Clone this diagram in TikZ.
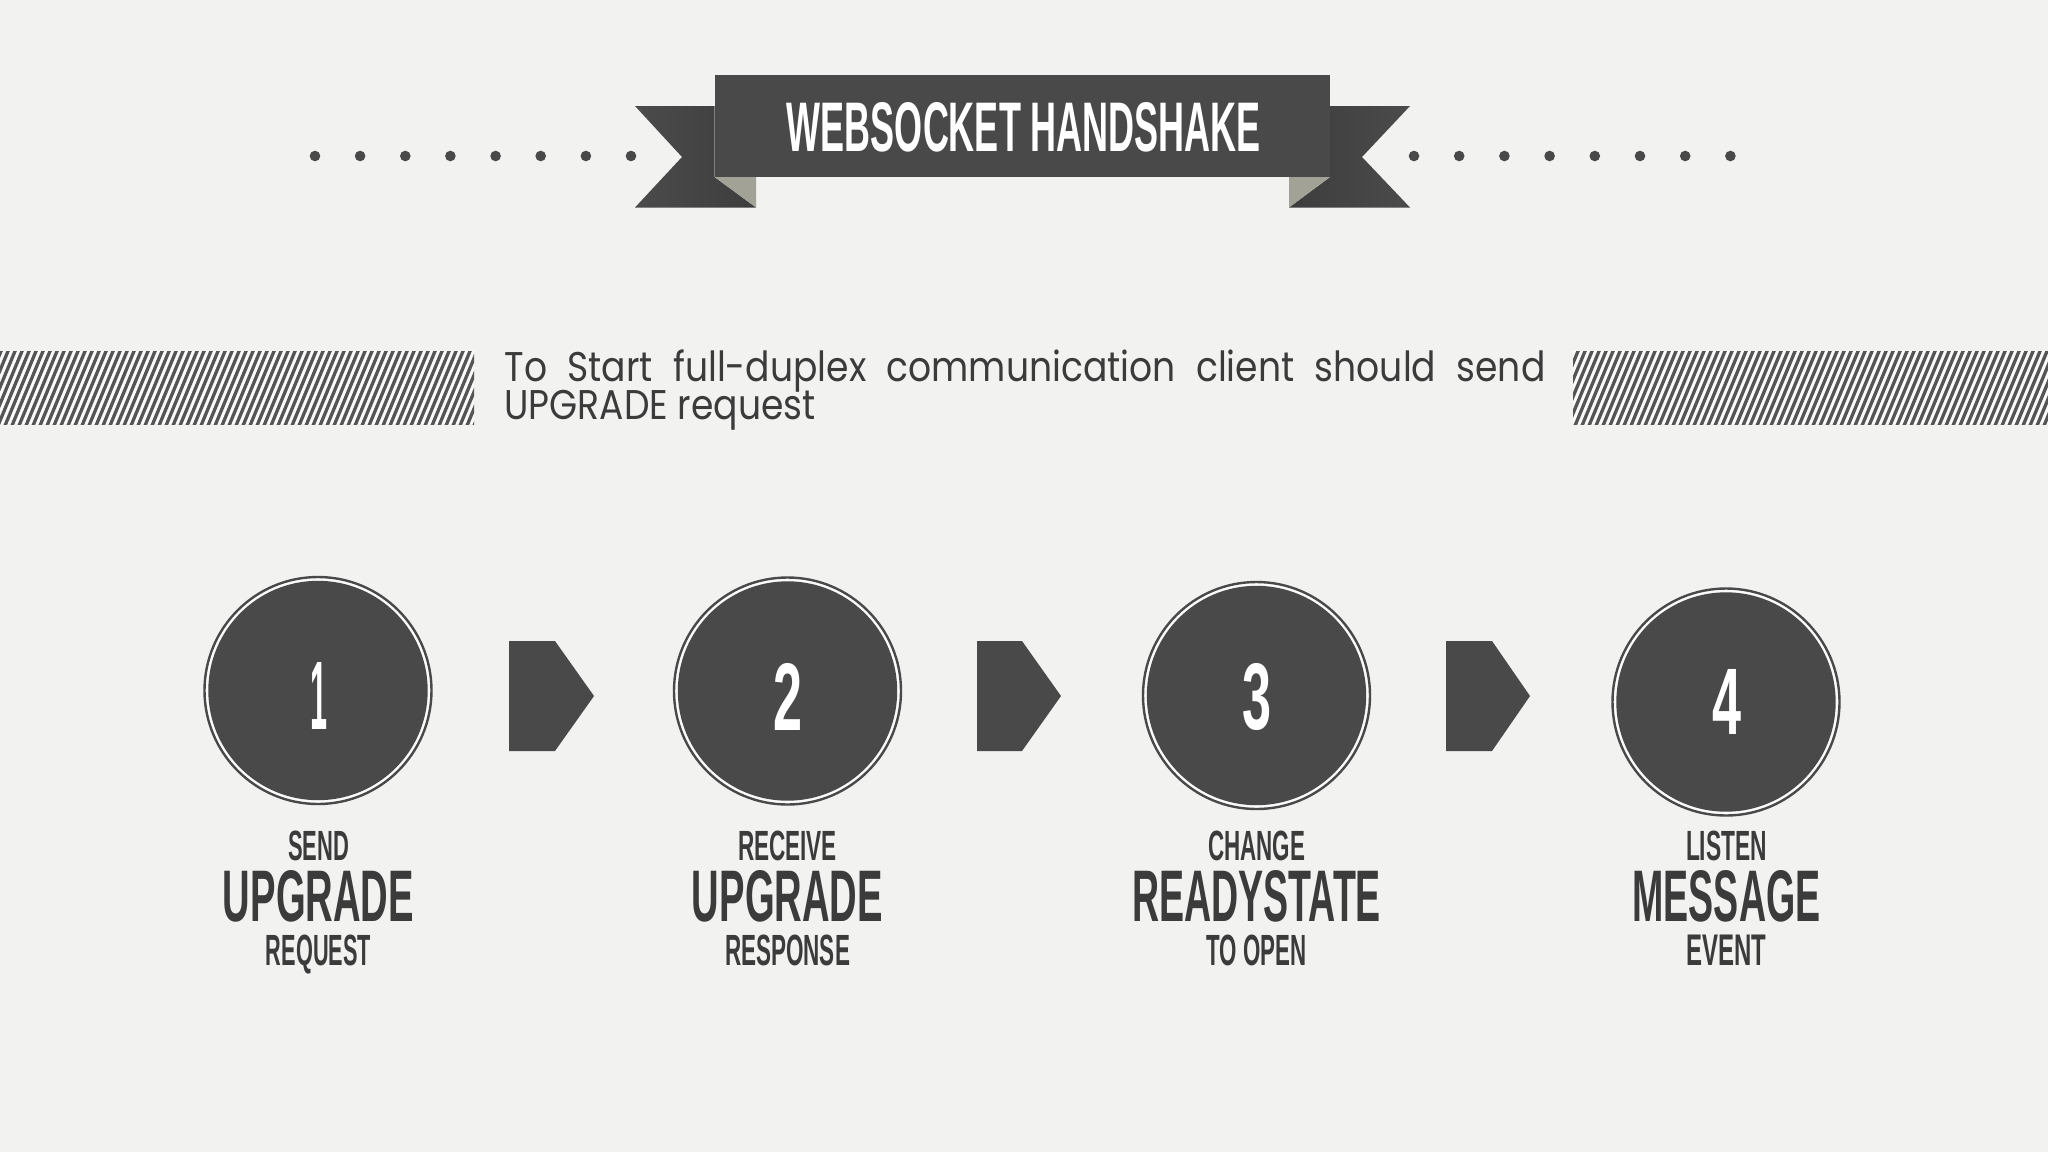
\documentclass[tikz,border=0pt]{standalone}
\usepackage{fontspec}
\usepackage{graphicx}
\setmainfont{Liberation Sans}
\newfontfamily\decofont{Liberation Sans}
\newfontfamily\parafont{Poppins}
\definecolor{bgc}{HTML}{F2F2F1}
\definecolor{darkc}{HTML}{4A494A}
\definecolor{textc}{HTML}{3C3B3C}
\definecolor{tailc}{HTML}{3D3D3D}
\definecolor{tailo}{HTML}{4B4B4B}
\definecolor{foldc}{HTML}{A2A396}
\definecolor{stripec}{HTML}{555555}
\definecolor{gapc}{HTML}{FBFBFB}
\newlength\Lw
% three-line step label: small / big / small, each given as width and text
\newcommand\steplabel[6]{\vbox{\offinterlineskip\halign{\hfil##\hfil\cr
  \resizebox{#1pt}{29.5pt}{#2}\cr\noalign{\vskip 9pt}
  \resizebox{#3pt}{51pt}{#4}\cr\noalign{\vskip 12.5pt}
  \resizebox{#5pt}{30.5pt}{#6}\cr}}}
\begin{document}
\settowidth\Lw{\parafont\fontsize{41.5pt}{44pt}\selectfont UPGRADE request}%
\pgfmathsetmacro\psx{311/\Lw}%
\pgfmathsetmacro\plw{1041/\psx}%
\begin{tikzpicture}[x=1pt,y=-1pt,
  deco/.style={inner sep=0pt, outer sep=0pt, anchor=base, text=textc, font=\decofont\bfseries},
  num/.style={inner sep=0pt, outer sep=0pt, anchor=base, text=white, font=\decofont\bfseries},
  para/.style={inner sep=0pt, outer sep=0pt, anchor=base west, text=textc, font={\parafont\fontsize{41.5pt}{44pt}\selectfont}},
  stepcircle/.style={circle, draw=darkc, fill=gapc, line width=2.4pt, minimum size=227pt, inner sep=0pt},
  stripe/.style={draw=stripec, line width=3.3pt},
  chevron/.style={fill=darkc}]
\useasboundingbox (0,0) rectangle (2048,1152);
\fill[bgc] (0,0) rectangle (2048,1152);

% dots
\foreach \x in {315,360.1,405.3,450.4,495.6,540.7,585.9,631}
  \fill[darkc] (\x,156) circle[radius=5.3];
\foreach \x in {1414,1459.2,1504.4,1549.6,1594.8,1640,1685.2,1730.4}
  \fill[darkc] (\x,156) circle[radius=5.3];

% banner tails
\shade[left color=tailo, right color=tailc] (635,106) -- (714.5,106) -- (714.5,177) -- (756,207.5) -- (635,207.5) -- (682,157) -- cycle;
\fill[foldc] (714.5,177) -- (756,177) -- (756,207.5) -- cycle;
\shade[left color=tailc, right color=tailo] (1410,106) -- (1330,106) -- (1330,177) -- (1289,207.5) -- (1410,207.5) -- (1362,157) -- cycle;
\fill[foldc] (1330,177) -- (1289,177) -- (1289,207.5) -- cycle;
% banner body
\node[fill=darkc, inner sep=0pt, minimum width=615.5pt, minimum height=102.5pt, anchor=north west] (banner) at (714.5,74.5) {};
\node[num] (title) at (1024,151) {\resizebox{474pt}{49pt}{WEBSOCKET HANDSHAKE}};

% striped bands
\begin{scope}
  \clip (0,351) rectangle (474,424);
  \fill[gapc] (0,351) rectangle (474,424);
  \foreach \x in {-50,-43,...,480} \draw[stripe] (\x,440) -- ++(40,-96);
\end{scope}
\begin{scope}
  \clip (1573,351) rectangle (2048,424);
  \fill[gapc] (1573,351) rectangle (2048,424);
  \foreach \x in {1520,1527,...,2060} \draw[stripe] (\x,440) -- ++(40,-96);
\end{scope}

% paragraph
\node[para] (p1) at (504.5,381.5) {\scalebox{\psx}[1]{\hbox to \plw pt{To\hfill Start\hfill full-duplex\hfill communication\hfill client\hfill should\hfill send}}};
\node[para] (p2) at (504.5,419.5) {\scalebox{\psx}[1]{UPGRADE request}};

% circles
\node[stepcircle] (c1) at (318,690.5) {};
\node[stepcircle] (c2) at (787.5,691) {};
\node[stepcircle] (c3) at (1256.5,695.5) {};
\node[stepcircle] (c4) at (1726,702) {};
\foreach \c in {c1,c2,c3,c4} \fill[darkc] (\c.center) circle[radius=109.7];
\node[num] (n1) at (319,729) {\resizebox{17pt}{67pt}{1}};
\node[num] (n2) at (788,730) {\resizebox{29pt}{67pt}{2}};
\node[num] (n3) at (1257,729.5) {\resizebox{29pt}{66pt}{3}};
\node[num] (n4) at (1727,734) {\resizebox{29pt}{65pt}{4}};

% chevrons
\fill[chevron] (509,641) -- (555,641) -- (594,696) -- (555,751) -- (509,751) -- cycle;
\fill[chevron] (977,641) -- (1022,641) -- (1061,696) -- (1022,751) -- (977,751) -- cycle;
\fill[chevron] (1446,641) -- (1492,641) -- (1530,696) -- (1492,751) -- (1446,751) -- cycle;

% labels
\node[deco] (l1) at (318.5,965) {\steplabel{61}{SEND}{191}{UPGRADE}{105}{REQUEST}};
\node[deco] (l2) at (787.5,965) {\steplabel{99}{RECEIVE}{191}{UPGRADE}{125}{RESPONSE}};
\node[deco] (l3) at (1256.5,965) {\steplabel{97}{CHANGE}{249}{READYSTATE}{100}{TO OPEN}};
\node[deco] (l4) at (1726.5,965) {\steplabel{81}{LISTEN}{188}{MESSAGE}{80}{EVENT}};
\end{tikzpicture}
\end{document}
